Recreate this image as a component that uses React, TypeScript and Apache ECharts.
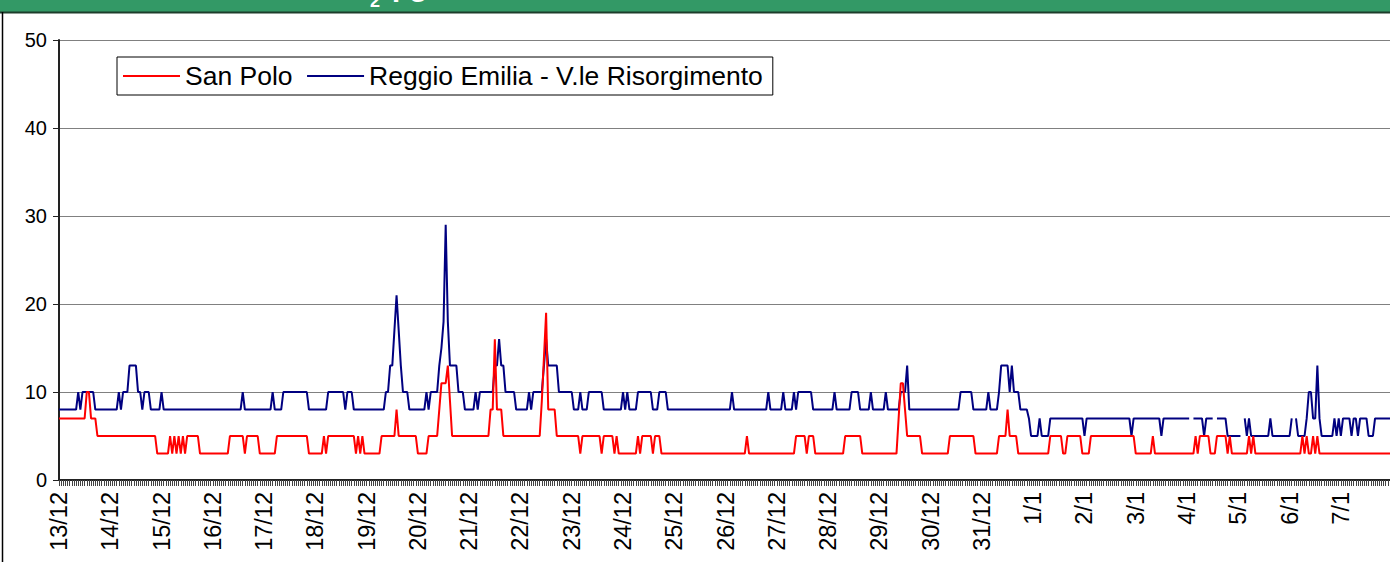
import React, { useEffect, useRef } from "react";
import * as echarts from "echarts";

const days = ["13/12","14/12","15/12","16/12","17/12","18/12","19/12","20/12","21/12","22/12","23/12","24/12","25/12","26/12","27/12","28/12","29/12","30/12","31/12","1/1","2/1","3/1","4/1","5/1","6/1","7/1"];
const hours = ["0","1","2","3","4","5","6","7","8","9","10","11","12","13","14","15","16","17","18","19","20","21","22","23"];

const seriesNames = ["San Polo", "Reggio Emilia - V.le Risorgimento"];
const yTicks = [0, 10, 20, 30, 40, 50];

// Reggio Emilia - V.le Risorgimento, hourly values from 13/12 00:00
const reggioEmilia: (number | null)[] = [
  8,
  8,8,8,8,8,8,8,8, 10,8,10,10,10,10,10,10, 8,8,8,8,8,8,8,8,
  8,8,8,10,8,10,10,10, 13,13,13,13,10,10,8,10, 10,10,8,8,8,8,8,10,
  8,8,8,8,8,8,8,8, 8,8,8,8,8,8,8,8, 8,8,8,8,8,8,8,8,
  8,8,8,8,8,8,8,8, 8,8,8,8,8,10,8,8, 8,8,8,8,8,8,8,8,
  8,8,8,10,8,8,8,8, 10,10,10,10,10,10,10,10, 10,10,10,10,8,8,8,8,
  8,8,8,8,8,10,10,10, 10,10,10,10,10,8,10,10, 10,8,8,8,8,8,8,8,
  8,8,8,8,8,8,8,8, 10,10,13,13,17,21,17,13, 10,10,10,8,8,8,8,8,
  8,8,8,10,8,10,10,10, 10,13,15,18,29,18,13,13, 13,13,10,10,10,8,8,8,
  8,8,10,8,10,10,10,10, 10,10,10,13,13,16,13,13, 10,10,10,10,10,8,8,8,
  8,8,8,10,8,10,10,10, 10,10,13,16,13,13,13,13, 13,10,10,10,10,10,10,10,
  8,8,8,10,8,8,8,10, 10,10,10,10,10,10,8,8, 8,8,8,8,8,8,8,10,
  8,10,8,8,8,8,10,10, 10,10,10,10,10,8,8,8, 10,10,10,10,8,8,8,8,
  8,8,8,8,8,8,8,8, 8,8,8,8,8,8,8,8, 8,8,8,8,8,8,8,8,
  8,8,10,8,8,8,8,8, 8,8,8,8,8,8,8,8, 8,8,8,10,8,8,8,8,
  8,8,10,8,8,8,8,10, 8,10,10,10,10,10,10,10, 8,8,8,8,8,8,8,8,
  8,8,10,8,8,8,8,8, 8,8,10,10,10,10,8,8, 8,8,8,10,8,8,8,8,
  8,8,10,8,8,8,8,8, 8,10,10,10,13,8,8,8, 8,8,8,8,8,8,8,8,
  8,8,8,8,8,8,8,8, 8,8,8,8,8,10,10,10, 10,10,10,8,8,8,8,8,
  8,8,10,8,8,8,8,10, 13,13,13,13,10,13,10,10, 10,8,8,8,8,7,5,5,
  5,5,7,5,5,5,5,7, 7,7,7,7,7,7,7,7, 7,7,7,7,7,7,7,5,
  7,7,7,7,7,7,7,7, 7,7,7,7,7,7,7,7, 7,7,7,7,7,5,7,7,
  7,7,7,7,7,7,7,7, 7,7,7,5,7,7,7,7, 7,7,7,7,7,7,7,7,
  7,null,7,7,7,7,7,5, 7,7,7,7,null,7,7,7, 7,7,5,5,5,5,5,5,
  5,null,7,5,7,5,5,5, 5,5,5,5,5,5,7,5, 5,5,5,5,5,5,5,5,
  7,null,7,5,5,5,5,7, 10,10,7,7,13,7,5,5, 5,5,5,5,7,5,7,5,
  7,7,7,7,5,7,7,5, 7,7,7,7,5,5,5,7, 7,7,7,7,7,7,7,
];

// San Polo, hourly values from 13/12 00:00
const sanPolo: (number | null)[] = [
  7,
  7,7,7,7,7,7,7,7, 7,7,7,7,10,10,7,7, 7,5,5,5,5,5,5,5,
  5,5,5,5,5,5,5,5, 5,5,5,5,5,5,5,5, 5,5,5,5,5,3,3,3,
  3,3,3,5,3,5,3,5, 3,5,3,5,5,5,5,5, 5,3,3,3,3,3,3,3,
  3,3,3,3,3,3,3,5, 5,5,5,5,5,5,3,5, 5,5,5,5,5,3,3,3,
  3,3,3,3,3,5,5,5, 5,5,5,5,5,5,5,5, 5,5,5,5,3,3,3,3,
  3,3,3,5,3,5,5,5, 5,5,5,5,5,5,5,5, 5,5,3,5,3,5,3,3,
  3,3,3,3,3,3,5,5, 5,5,5,5,5,8,5,5, 5,5,5,5,5,5,5,3,
  3,3,3,3,5,5,5,5, 5,8,11,11,11,13,9,5, 5,5,5,5,5,5,5,5,
  5,5,5,5,5,5,5,5, 5,8,8,16,8,8,8,5, 5,5,5,5,5,5,5,5,
  5,5,5,5,5,5,5,5, 5,9,14,19,8,8,8,8, 5,5,5,5,5,5,5,5,
  5,5,5,3,5,5,5,5, 5,5,5,5,5,3,5,5, 5,5,5,3,5,3,3,3,
  3,3,3,3,3,3,5,3, 5,5,5,5,5,3,5,5, 5,3,3,3,3,3,3,3,
  3,3,3,3,3,3,3,3, 3,3,3,3,3,3,3,3, 3,3,3,3,3,3,3,3,
  3,3,3,3,3,3,3,3, 3,5,3,3,3,3,3,3, 3,3,3,3,3,3,3,3,
  3,3,3,3,3,3,3,3, 5,5,5,5,5,3,5,5, 5,3,3,3,3,3,3,3,
  3,3,3,3,3,3,3,5, 5,5,5,5,5,5,5,3, 3,3,3,3,3,3,3,3,
  3,3,3,3,3,3,3,3, 7,11,11,8,5,5,5,5, 5,5,5,3,3,3,3,3,
  3,3,3,3,3,3,3,3, 5,5,5,5,5,5,5,5, 5,5,5,5,3,3,3,3,
  3,3,3,3,3,3,3,5, 5,5,5,8,5,5,5,5, 3,3,3,3,3,3,3,3,
  3,3,3,3,3,3,3,5, 5,5,5,5,5,3,3,5, 5,5,5,5,5,5,3,3,
  3,3,5,5,5,5,5,5, 5,5,5,5,5,5,5,5, 5,5,5,5,5,5,5,3,
  3,3,3,3,3,3,3,5, 3,3,3,3,3,3,3,3, 3,3,3,3,3,3,3,3,
  3,3,3,5,3,5,5,5, 5,5,3,3,3,5,5,5, 5,5,3,5,3,3,3,3,
  3,3,3,3,5,3,5,3, 3,3,3,3,3,3,3,3, 3,3,3,3,3,3,3,3,
  3,3,3,3,3,5,3,5, 3,3,5,3,5,3,3,3, 3,3,3,3,3,3,3,3,
  3,3,3,3,3,3,3,3, 3,3,3,3,3,3,3,3, 3,3,3,3,3,3,3,
];

const FONT = '"Liberation Sans", Arial, sans-serif';

export default function App() {
  const ref = useRef<HTMLDivElement>(null);
  useEffect(() => {
    if (!ref.current) return;
    const chart = echarts.init(ref.current, undefined, { renderer: "svg" });
    const categories = days.flatMap((d) => hours.map((h) => d + " " + h));
    chart.setOption({
      animation: false,
      backgroundColor: "#ffffff",
      textStyle: { fontFamily: FONT },
      graphic: [
        { type: "rect", shape: { x: 0, y: 0, width: 1390, height: 12 }, style: { fill: "#339966" }, z: 10 },
        { type: "line", shape: { x1: 0, y1: 12.5, x2: 1390, y2: 12.5 }, style: { stroke: "#1d3d2b", lineWidth: 2 }, z: 11 },
        { type: "line", shape: { x1: 2.5, y1: 12, x2: 2.5, y2: 562 }, style: { stroke: "#000000", lineWidth: 1.5 }, z: 11 },
        {
          type: "text", x: 369, y: -17, z: 12,
          style: { text: "NO", fill: "#ffffff", fontSize: 30, fontWeight: "bold", fontFamily: FONT, align: "right", verticalAlign: "middle" },
        },
        {
          type: "text", x: 370, y: 1, z: 12,
          style: { text: "2", fill: "#ffffff", fontSize: 18, fontWeight: "bold", fontFamily: FONT, align: "left", verticalAlign: "middle" },
        },
        {
          type: "text", x: 392, y: -15, z: 12,
          style: { text: "µg/m³", fill: "#ffffff", fontSize: 30, fontWeight: "bold", fontFamily: FONT, align: "left", verticalAlign: "middle" },
        },
      ],
      legend: {
        data: seriesNames,
        left: 117, top: 57,
        padding: [4, 10, 4, 6],
        icon: "rect",
        itemWidth: 57, itemHeight: 2, itemGap: 14.5,
        borderColor: "#000", borderWidth: 1, backgroundColor: "#fff",
        textStyle: { fontSize: 26.5, color: "#000", fontFamily: FONT, lineHeight: 30 },
      },
      grid: { left: 59, top: 40, width: 1335, height: 440, containLabel: false },
      xAxis: {
        type: "category", data: categories, boundaryGap: false,
        axisLine: { lineStyle: { color: "#222", width: 2 } },
        axisTick: { show: true, interval: 0, length: 6, lineStyle: { color: "#444", width: 1 } },
        axisLabel: {
          interval: (idx: number) => idx % 24 === 0,
          rotate: 90, margin: 12, color: "#000", fontSize: 23.5, fontFamily: FONT,
          padding: [5, 0, 0, 0],
          formatter: (v: string) => v.split(" ")[0],
        },
        splitLine: { show: false },
      },
      yAxis: {
        type: "value", min: yTicks[0], max: yTicks[yTicks.length - 1], interval: 10,
        axisLine: { show: true, lineStyle: { color: "#222", width: 2 } },
        axisTick: { show: true, length: 6, lineStyle: { color: "#222" } },
        axisLabel: { color: "#000", fontSize: 20, margin: 12, fontFamily: FONT },
        splitLine: { lineStyle: { color: "#808080", width: 1 } },
      },
      series: [
        {
          name: seriesNames[1], type: "line", data: reggioEmilia, symbol: "none",
          connectNulls: false, lineStyle: { color: "#000080", width: 2 }, itemStyle: { color: "#000080" },
        },
        {
          name: seriesNames[0], type: "line", data: sanPolo, symbol: "none",
          lineStyle: { color: "#ff0000", width: 2 }, itemStyle: { color: "#ff0000" },
        },
      ],
    });
    return () => chart.dispose();
  }, []);
  return (
    <div style={{ position: "fixed", left: 0, top: 0, width: 1390, height: 562, background: "#fff" }}>
      <div ref={ref} style={{ width: 1390, height: 562 }} />
    </div>
  );
}
